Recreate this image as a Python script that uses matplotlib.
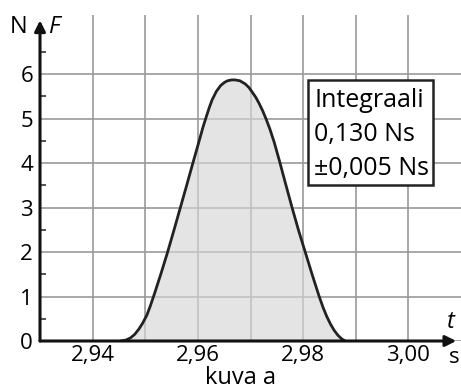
import numpy as np
import matplotlib
matplotlib.use("Agg")
import matplotlib.pyplot as plt
from matplotlib.patches import Rectangle

plt.rcParams['font.family'] = ['Open Sans', 'DejaVu Sans']

# --- data ---
t = [2.9453, 2.9463, 2.9472, 2.9480, 2.9488, 2.9495, 2.9503, 2.9510,
     2.9518, 2.9530, 2.9542, 2.9554, 2.9566, 2.9578, 2.9590, 2.9602,
     2.9610, 2.9617, 2.9622, 2.9627, 2.9635, 2.9643, 2.9650, 2.9656,
     2.9664, 2.9671, 2.9680, 2.9690, 2.9697, 2.9703, 2.9710, 2.9716,
     2.9723, 2.9730, 2.9737, 2.9745, 2.9755, 2.9767, 2.9779, 2.9791,
     2.9804, 2.9817, 2.9830, 2.9838, 2.9845, 2.9852, 2.9859, 2.9866,
     2.9873, 2.9880]
F = [0.00, 0.02, 0.07, 0.15, 0.27, 0.40, 0.58, 0.80,
     1.08, 1.52, 1.98, 2.47, 2.97, 3.47, 3.98, 4.48,
     4.82, 5.08, 5.26, 5.42, 5.61, 5.74, 5.81, 5.85,
     5.87, 5.87, 5.85, 5.78, 5.70, 5.60, 5.48, 5.35,
     5.18, 4.98, 4.76, 4.47, 4.05, 3.52, 3.00, 2.50,
     2.00, 1.50, 1.02, 0.75, 0.55, 0.38, 0.24, 0.13,
     0.05, 0.00]
x_ticks = [2.94, 2.95, 2.96, 2.97, 2.98, 2.99, 3.00]
x_labels = ['2,94', '', '2,96', '', '2,98', '', '3,00']
y_ticks = [0, 1, 2, 3, 4, 5, 6]
box_lines = ['Integraali', '0,130 Ns', '\u00b10,005 Ns']

W, H = 461, 389
fig = plt.figure(figsize=(W / 100, H / 100), dpi=100)
ax = fig.add_axes([40 / W, 48 / H, (W - 40) / W, (341 - 15) / H])

ax.set_xlim(2.93, 3.010)
ax.set_ylim(0, 7.33)
for s in ax.spines.values():
    s.set_visible(False)

ax.set_axisbelow(True)
ax.grid(True, color='#9a9a9a', lw=1.2)
ax.fill_between(t, F, color='#d6d6d6', alpha=0.65, lw=0, zorder=1)
ax.plot(t, F, color='#222222', lw=2.0, zorder=3,
        solid_capstyle='round', solid_joinstyle='round')

ax.set_xticks(x_ticks)
ax.set_xticklabels(x_labels)
ax.set_yticks(y_ticks)
ax.set_yticks(np.arange(0.5, 7.0, 1.0), minor=True)
ax.tick_params(axis='both', which='major', length=0, labelsize=16)
ax.tick_params(axis='x', pad=3)
ax.tick_params(axis='y', pad=5)
ax.tick_params(axis='y', which='minor', direction='in', length=4, width=1.2, color='#333333')
ax.tick_params(axis='x', which='minor', length=0)

# axis arrows
ax.annotate('', xy=(2.93, 7.21), xytext=(2.93, 0), xycoords='data',
            arrowprops=dict(arrowstyle='-|>', lw=2.2, color='#111111',
                            mutation_scale=16, shrinkA=0, shrinkB=0),
            annotation_clip=False, zorder=5)
ax.annotate('', xy=(3.0091, 0), xytext=(2.93, 0), xycoords='data',
            arrowprops=dict(arrowstyle='-|>', lw=2.2, color='#111111',
                            mutation_scale=16, shrinkA=0, shrinkB=0),
            annotation_clip=False, zorder=5)

def fx(px):
    return px / W

def fy(py):
    return 1 - py / H

# axis names
fig.text(fx(10), fy(33), 'N', fontsize=17, va='baseline', ha='left')
fig.text(fx(49), fy(33), 'F', fontsize=17, style='italic', va='baseline', ha='left')
fig.text(fx(447), fy(328), 't', fontsize=17, style='italic', va='baseline', ha='left')
fig.text(fx(449), fy(363), 's', fontsize=16, va='baseline', ha='left')
fig.text(fx(240), fy(384), 'kuva a', fontsize=17, va='baseline', ha='center')

# result box
fig.patches.append(Rectangle((fx(308), fy(185)), (433 - 308) / W, (185 - 80) / H,
                             transform=fig.transFigure, facecolor='white',
                             edgecolor='#222222', lw=1.8, zorder=4))
for line, base in zip(box_lines, [107, 141, 175]):
    fig.text(fx(314), fy(base), line, fontsize=18, va='baseline', ha='left', zorder=6)

fig.savefig('out.png', dpi=100)
